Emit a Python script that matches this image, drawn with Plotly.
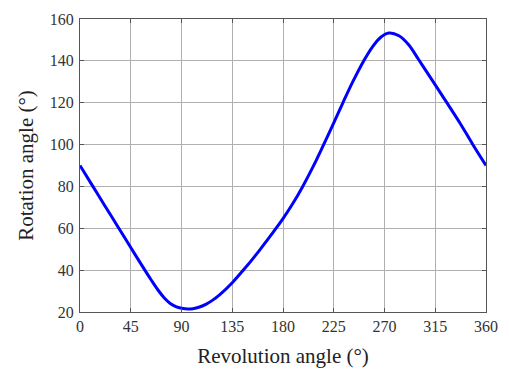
import plotly.graph_objects as go

revolution = [0, 11, 22, 34, 45, 57.5, 63, 69.3, 75, 80, 85, 90, 95.7, 100, 106, 112, 118, 124, 135, 147.5, 159.3, 170, 180, 188.7, 197.5, 206.9, 215.1, 224.6, 232.8, 241.6, 251.9, 259.2, 266.7, 274, 282.8, 291.6, 299.8, 307, 315, 326.3, 337, 348, 360]
rotation = [90, 80.4, 70.8, 60.4, 50.8, 40, 35.4, 30.4, 26.6, 24.1, 22.6, 21.8, 21.4, 21.6, 22.4, 23.8, 25.8, 28.3, 34.0, 41.7, 49.6, 57.2, 64.6, 71.8, 80, 89.7, 98.9, 109.9, 119.6, 129.7, 140.3, 146.6, 151.3, 153.3, 152.0, 147.6, 141.0, 135.1, 128.5, 119.2, 110.2, 100.3, 90]

x_ticks = [0, 45, 90, 135, 180, 225, 270, 315, 360]
y_ticks = [20, 40, 60, 80, 100, 120, 140, 160]

fig = go.Figure()
fig.add_trace(go.Scatter(x=revolution, y=rotation, mode="lines",
                         line=dict(color="#0000ff", width=3, shape="spline", smoothing=1.0),
                         showlegend=False))

font = "Liberation Serif"
axis_common = dict(showline=True, linecolor="#555555", linewidth=1.2, mirror="ticks",
                   showgrid=True, gridcolor="#b0b0b0", gridwidth=1,
                   ticks="inside", ticklen=4, tickcolor="#555555",
                   tickfont=dict(family=font, size=16, color="#333333"),
                   zeroline=False)

fig.update_xaxes(range=[0, 360], tickvals=x_ticks, ticktext=[str(v) for v in x_ticks],
                 title=dict(text="Revolution angle (°)", font=dict(family=font, size=21, color="#222222"), standoff=14),
                 **axis_common)
fig.update_yaxes(range=[20, 160], tickvals=y_ticks, ticktext=[str(v) for v in y_ticks],
                 ticklabelstandoff=2,
                 title=dict(text="Rotation angle (°)", font=dict(family=font, size=21, color="#222222"), standoff=10),
                 **axis_common)

fig.update_layout(width=509, height=380, margin=dict(l=80, r=22, t=11, b=68),
                  font=dict(family=font, color="#333333"),
                  plot_bgcolor="white", paper_bgcolor="white")

fig.write_html("out.html")
